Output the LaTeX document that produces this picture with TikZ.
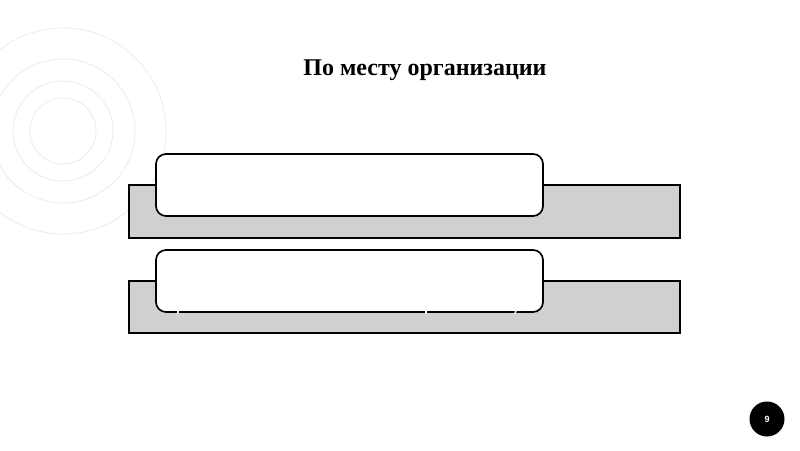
\documentclass[tikz,border=0pt]{standalone}
\usepackage{fontspec}
\setmainfont{Liberation Serif}
\newfontfamily\numfont{Liberation Sans}
\definecolor{ringgray}{HTML}{EDEDED}
\definecolor{bandgray}{HTML}{D0D0D0}
\tikzset{
  ring/.style={draw=ringgray, line width=0.9pt},
  band/.style={draw=black, fill=bandgray, line width=1.5pt},
  card/.style={draw=black, fill=white, line width=1.7pt, rounded corners=10pt},
  gapmark/.style={draw=white, line width=1.6pt}
}
\begin{document}
\begin{tikzpicture}[x=1pt,y=-1pt]
\useasboundingbox[fill=white] (0,0) rectangle (800,450);
% decorative rings
\coordinate (rc) at (63,131);
\foreach \r in {33,50,72,103} \draw[ring] (rc) circle[radius=\r];
% title
\node[font=\bfseries\fontsize{24}{28}\selectfont, anchor=center] (title) at (425,70) {По месту организации};
% first band
\draw[band] (129,185) rectangle (680,238);
\draw[card] (156,154) rectangle (543,216);
% second band
\draw[band] (129,281) rectangle (680,333);
\draw[card] (156,250) rectangle (543,312);
\draw[gapmark] (178.5,310) -- (177.5,314);
\draw[gapmark] (426,310) -- (426,314);
\draw[gapmark] (516,310) -- (515,314);
% page number
\node[circle, fill=black, minimum size=35pt, inner sep=0pt] (pg) at (767,419) {};
\node[text=white, font=\numfont\bfseries\fontsize{9}{10}\selectfont] at (pg) {9};
\end{tikzpicture}
\end{document}
